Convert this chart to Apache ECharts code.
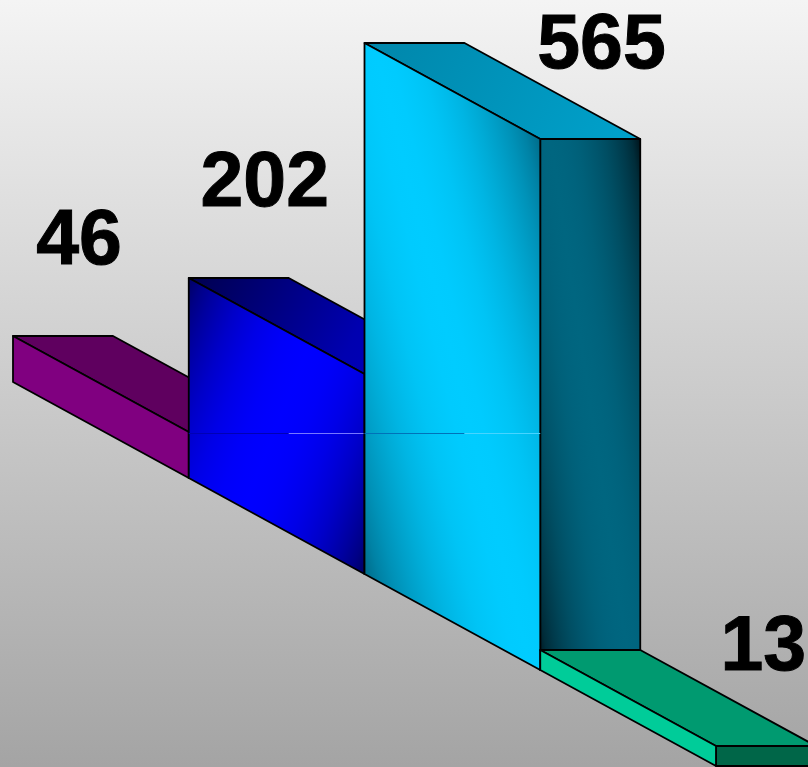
<!DOCTYPE html>
<html>
<head>
<meta charset="utf-8">
<style>html,body{margin:0;padding:0;background:#fff}#c{width:808px;height:767px}</style>
<script src="https://cdn.jsdelivr.net/npm/echarts@6/dist/echarts.min.js"></script>
</head>
<body>
<div id="c"></div>
<script>
// ---- data ----
const barLabels = ['46', '202', '565', '13'];
const barHeights = [46, 200, 531, 20];      // drawn height of each front face, in axis units
const slots = [0, 1, 2, 3];

// ---- projection (oblique 3D) and layout ----
const W = 808, H = 767, LEFT = 13, SLOT = 175.75;
const FLOOR0 = 382;        // canvas y of the value-axis zero
const DROP = 96;           // the floor falls this many axis units per slot
const DEPTH = 100 / SLOT;  // receding depth, in slots
const SEAM_VALUE = -51;    // hairline seam through the gradients

// soft dark-bright-dark ramp used for the shaded faces
function stops(dark, bright, power) {
  const a = echarts.color.parse(dark), b = echarts.color.parse(bright), out = [];
  for (let n = 0; n <= 20; n++) {
    const t = n / 20, f = Math.pow(Math.sin(Math.PI * t), power);
    out.push([t, 'rgb(' + [0, 1, 2].map(c => Math.round(a[c] + (b[c] - a[c]) * f)).join(',') + ')']);
  }
  return out;
}
const looks = [
  { front: '#800080', top: '#5f005f', side: '#5f005f' },
  { front: { k: 0.4, s: stops('#000062', '#0000ff', 0.8) },
    top: { k: 0.5, s: [[0, '#00004e'], [0.6, '#0000b0'], [1, '#0000c4']] },
    side: '#000080', seam: ['#0000b4', '#7878ff'] },
  { front: { k: -0.25, s: stops('#006c8a', '#00ccff', 0.8) },
    top: { k: 0.5, s: [[0, '#0086aa'], [1, '#00a2cc']] },
    side: { k: -0.15, s: stops('#00141c', '#006680', 0.65) },
    seam: ['#0072b8', '#48d4ff'] },
  { front: '#00cc99', top: '#009a70', side: '#006648' }
];
const labelCentre = [[66, -93], [76, -93], [237, 4], [223, -1]]; // label centre relative to front-top-left corner

function paint(look, a, b) {
  if (typeof look === 'string') return look;
  const k = look.k, d = 1 + k * k;
  const pa = (a[0] + k * a[1]) / d, pb = (b[0] + k * b[1]) / d;
  return { type: 'linear', global: true, x: pa, y: pa * k, x2: pb, y2: pb * k,
    colorStops: look.s.map(s => ({ offset: s[0], color: s[1] })) };
}

function face(points, fill) {
  return { type: 'polygon', shape: { points },
    style: { fill, stroke: '#000', lineWidth: 1.8, lineJoin: 'round' } };
}

function renderItem(params, api) {
  const i = api.value(0), h = api.value(1), n = params.dataIndex;
  const base = -DROP * i, baseR = -DROP * (i + 1);
  const fbl = api.coord([i, base]), fbr = api.coord([i + 1, baseR]);
  const ftl = api.coord([i, base + h]), ftr = api.coord([i + 1, baseR + h]);
  const btl = api.coord([i + DEPTH, base + h]), btr = api.coord([i + 1 + DEPTH, baseR + h]);
  const sbr = api.coord([i + 1 + DEPTH, baseR]);
  const look = looks[n];
  const children = [
    face([ftr, btr, sbr, fbr], paint(look.side, btr, fbr)),
    face([ftl, btl, btr, ftr], paint(look.top, ftl, btr)),
    face([ftl, ftr, fbr, fbl], paint(look.front, look.front.k > 0 ? ftl : ftr, look.front.k > 0 ? fbr : fbl))
  ];
  if (look.seam) {
    const s0 = api.coord([i, SEAM_VALUE]), s1 = api.coord([i + DEPTH, SEAM_VALUE]), s2 = api.coord([i + 1, SEAM_VALUE]);
    [[s0, s1, look.seam[0]], [s1, s2, look.seam[1]]].forEach(seg => children.push({
      type: 'line', shape: { x1: seg[0][0], y1: seg[0][1] + 0.5, x2: seg[1][0], y2: seg[1][1] + 0.5 },
      style: { stroke: seg[2], lineWidth: 1 }
    }));
  }
  children.push({
    type: 'text',
    style: { text: barLabels[n], x: ftl[0] + labelCentre[n][0], y: ftl[1] + labelCentre[n][1],
      fill: '#000', stroke: '#000', lineWidth: 1,
      font: 'bold 77px "Liberation Sans", Arial, sans-serif',
      align: 'center', verticalAlign: 'middle' }
  });
  return { type: 'group', children };
}

const chart = echarts.init(document.getElementById('c'), null, { renderer: 'canvas', width: W, height: H });
chart.setOption({
  animation: false,
  backgroundColor: { type: 'linear', x: 0, y: 0, x2: 0, y2: 1,
    colorStops: [{ offset: 0, color: '#f4f4f4' }, { offset: 1, color: '#a4a4a4' }] },
  grid: { left: 0, right: 0, top: 0, bottom: 0 },
  xAxis: { type: 'value', show: false, min: -LEFT / SLOT, max: (W - LEFT) / SLOT },
  yAxis: { type: 'value', show: false, min: FLOOR0 - H, max: FLOOR0 },
  series: [{
    type: 'custom',
    clip: false,
    renderItem,
    encode: { x: 0, y: 1 },
    data: slots.map((s, n) => [s, barHeights[n]])
  }]
});
</script>
</body>
</html>
